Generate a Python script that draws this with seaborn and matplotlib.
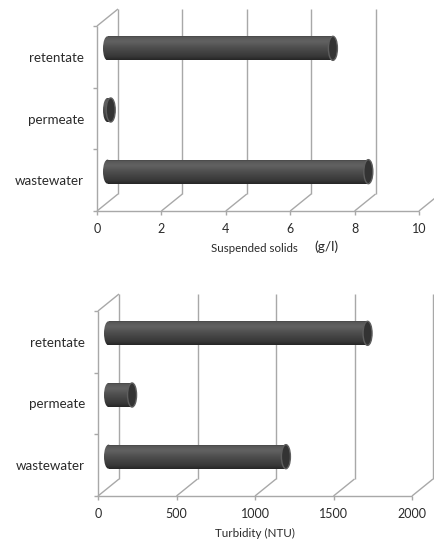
import numpy as np
import matplotlib
matplotlib.use("Agg")
import matplotlib.pyplot as plt
import matplotlib.transforms as mtransforms
from matplotlib.patches import Ellipse
from matplotlib.colors import LinearSegmentedColormap
import seaborn as sns

# ---- data -------------------------------------------------------------
categories = ["retentate", "permeate", "wastewater"]
suspended_solids = [7.0, 0.1, 8.1]          # g/l
turbidity = [1650, 150, 1130]               # NTU
ss_ticks = [0, 2, 4, 6, 8, 10]
turb_ticks = [0, 500, 1000, 1500, 2000]

sns.set_theme(style="white")
plt.rcParams["font.family"] = ["Lato", "DejaVu Sans"]

W, H = 434, 540
DPI = 100
fig = plt.figure(figsize=(W / DPI, H / DPI), dpi=DPI)

WALL = "#a8a8a8"
TEXT = "#2a2a2a"
BACK = (21, 17)      # pixel offset of the back wall (right, up)
MID = (10.5, 8.5)    # pixel offset of the bar axis (half depth)
CAP_RX = 4.5         # half width of the cylinder end ellipses, px

cyl = LinearSegmentedColormap.from_list(
    "cyl",
    [(0.0, "#333333"), (0.08, "#575757"), (0.25, "#626262"),
     (0.55, "#4b4b4b"), (0.85, "#383838"), (1.0, "#252525")],
)
grad = np.linspace(0, 1, 256).reshape(-1, 1)


def px_to_data(ax, dx_px, dy_px):
    """Convert a pixel displacement into data units for this axes."""
    x0, x1 = ax.get_xlim()
    y0, y1 = ax.get_ylim()
    bb = ax.get_position()
    return dx_px * (x1 - x0) / (bb.width * W), dy_px * (y1 - y0) / (bb.height * H)


def panel(rect, values, ticks):
    ax = fig.add_axes(rect)
    sns.barplot(x=values, y=categories, orient="h", color="#454545",
                width=0.39, ax=ax, zorder=3, linewidth=0)
    xmin, xmax = ticks[0], ticks[-1]
    ybot, ytop = 2.5, -0.5
    ax.set_xlim(xmin, xmax)
    ax.set_ylim(ybot, ytop)
    for s in ax.spines.values():
        s.set_visible(False)
    ax.set_xlabel("")
    ax.set_ylabel("")

    # ticks and labels on the front edges
    ax.set_xticks(ticks)
    ax.set_xticklabels([f"{t:g}" for t in ticks])
    ax.tick_params(axis="x", bottom=True, length=3, width=1, color=WALL,
                   pad=5.5, labelsize=9, labelcolor=TEXT)
    ax.tick_params(axis="y", which="major", left=False, length=0, pad=9.5,
                   labelsize=9.6, labelcolor=TEXT)
    ax.set_yticks([-0.5, 0.5, 1.5, 2.5], minor=True)
    ax.tick_params(axis="y", which="minor", left=True, length=3, width=1,
                   color=WALL)

    # 3-D walls: floor edges, left wall and back gridlines
    dx, dy = px_to_data(ax, *BACK)
    kw = dict(color=WALL, lw=1, clip_on=False, zorder=1,
              solid_capstyle="butt")
    ax.plot([xmin, xmax], [ybot, ybot], **kw)
    ax.plot([xmin, xmin], [ybot, ytop], **kw)
    ax.plot([xmin, xmin + dx], [ytop, ytop + dy], **kw)
    for t in ticks:
        ax.plot([t, t + dx], [ybot, ybot + dy], **kw)
        ax.plot([t + dx, t + dx], [ybot + dy, ytop + dy], **kw)

    # turn the flat bars into shaded cylinders sitting at half depth
    shift = mtransforms.ScaledTranslation(MID[0] / DPI, MID[1] / DPI,
                                          fig.dpi_scale_trans)
    tr = ax.transData + shift
    rx = px_to_data(ax, CAP_RX, 0)[0]
    for p in list(ax.patches):
        x0, y0 = p.get_x(), p.get_y()
        w, h = p.get_width(), p.get_height()
        p.set_transform(tr)
        yc = y0 + h / 2
        left = Ellipse((x0, yc), 2 * rx, h, transform=tr)
        for clip in (p, left):
            im = ax.imshow(grad, cmap=cyl, extent=(x0 - rx, x0 + w, y0 + h, y0),
                           aspect="auto", interpolation="bilinear",
                           transform=tr, zorder=3.2)
            im.set_clip_path(clip)
        end = Ellipse((x0 + w, yc), 2 * rx, h, transform=tr,
                      facecolor="#333333", edgecolor="#5e5e5e", lw=1,
                      zorder=3.5)
        ax.add_patch(end)

    ax.set_xlim(xmin, xmax)
    ax.set_ylim(ybot, ytop)
    return ax


# axes rectangles in figure fractions (front plane of each chart)
ax1 = panel([97 / W, 1 - 211 / H, 322 / W, 185 / H], suspended_solids, ss_ticks)
ax2 = panel([98 / W, 1 - 496 / H, 314 / W, 185 / H], turbidity, turb_ticks)

fig.text(298 / W, 1 - 248 / H, "Suspended solids", ha="right", va="center",
         fontsize=8.3, color=TEXT)
fig.text(314 / W, 1 - 247 / H, "(g/l)", ha="left", va="center",
         fontsize=10, color=TEXT)
fig.text(255 / W, 1 - 533 / H, "Turbidity (NTU)", ha="center", va="center",
         fontsize=8.4, color=TEXT)

fig.savefig("out.png", dpi=DPI, facecolor="white")
